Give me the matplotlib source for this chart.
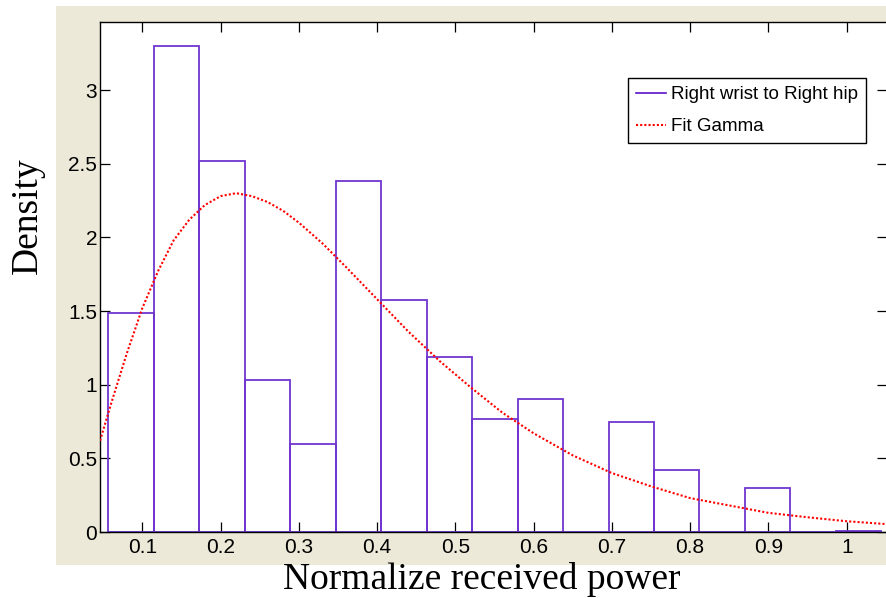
import matplotlib
matplotlib.use("Agg")
import matplotlib.pyplot as plt
from matplotlib.patches import Rectangle
from matplotlib.lines import Line2D

# ---- data ----
bin_left = 0.0566
bin_width = 0.0581
bar_heights = [1.49, 3.30, 2.52, 1.03, 0.60, 2.38, 1.575, 1.185, 0.77, 0.905,
               0.0, 0.75, 0.42, 0.0, 0.30, 0.0, 0.008]
fit_x = [0.046, 0.06, 0.08, 0.10, 0.12, 0.14, 0.16, 0.18, 0.20, 0.22, 0.24,
         0.26, 0.28, 0.30, 0.33, 0.36, 0.40, 0.44, 0.48, 0.52, 0.56, 0.60,
         0.65, 0.70, 0.75, 0.80, 0.85, 0.90, 0.95, 1.00, 1.05]
fit_y = [0.62, 0.87, 1.21, 1.52, 1.77, 1.98, 2.12, 2.22, 2.28, 2.30, 2.28,
         2.24, 2.18, 2.10, 1.96, 1.80, 1.58, 1.36, 1.16, 0.98, 0.81, 0.67,
         0.52, 0.40, 0.31, 0.23, 0.18, 0.13, 0.10, 0.073, 0.054]
xticks = [0.1, 0.2, 0.3, 0.4, 0.5, 0.6, 0.7, 0.8, 0.9, 1.0]
xtick_labels = ["0.1", "0.2", "0.3", "0.4", "0.5", "0.6", "0.7", "0.8", "0.9", "1"]
yticks = [0, 0.5, 1, 1.5, 2, 2.5, 3]
ytick_labels = ["0", "0.5", "1", "1.5", "2", "2.5", "3"]
series_label = "Right wrist to Right hip"
fit_label = "Fit Gamma"
xlabel = "Normalize received power"
ylabel = "Density"

W, H = 886, 598
sans = ["Liberation Sans", "DejaVu Sans"]
serif = ["Liberation Serif", "DejaVu Serif"]

fig = plt.figure(figsize=(W / 100, H / 100), dpi=100, facecolor="white")
# beige MATLAB figure background
fig.patches.append(Rectangle((56 / W, (H - 565) / H), (W - 56) / W, (565 - 6) / H,
                             transform=fig.transFigure, facecolor="#ece9d8",
                             edgecolor="none", zorder=-10))

ax_l, ax_r, ax_t, ax_b = 100, 887, 22.3, 532
ax = fig.add_axes([ax_l / W, (H - ax_b) / H, (ax_r - ax_l) / W, (ax_b - ax_t) / H])
ax.set_zorder(1)
ax.set_facecolor("white")

lefts = [bin_left + i * bin_width for i in range(len(bar_heights))]
ax.bar(lefts, bar_heights, width=bin_width, align="edge", fill=False,
       edgecolor="#7035d0", linewidth=1.3, label=series_label, zorder=2)
ax.plot(fit_x, fit_y, linestyle=(0, (1, 1)), color="#ff0000", linewidth=1.5,
        label=fit_label, zorder=3)

ax.set_xlim(0.0459, 1.0515)
ax.set_ylim(0, 3.46)
ax.set_xticks(xticks)
ax.set_xticklabels(xtick_labels)
ax.set_yticks(yticks)
ax.set_yticklabels(ytick_labels)
ax.tick_params(direction="in", length=7.5, width=0.9, top=True, right=True,
               labelsize=15, colors="black")
ax.tick_params(axis="x", pad=4.5)
ax.tick_params(axis="y", pad=2)
for lab in ax.get_xticklabels() + ax.get_yticklabels():
    lab.set_family(sans)
for sp in ax.spines.values():
    sp.set_linewidth(1.0)
    sp.set_color("black")

handles = [Line2D([], [], color="#5a10c8", linewidth=1.2),
           Line2D([], [], color="#ff0000", linestyle=(0, (1, 1)), linewidth=1.5)]
leg = ax.legend(handles, [series_label, fit_label], loc="upper right",
                bbox_to_anchor=(865.7 / W, (H - 78.3) / H),
                bbox_transform=fig.transFigure, borderaxespad=0,
                fancybox=False, framealpha=1, edgecolor="black",
                prop={"family": sans, "size": 13.5}, handlelength=1.6,
                handletextpad=0.25, borderpad=0.42, labelspacing=0.8)
leg.get_frame().set_linewidth(1.0)

fig.text(482 / W, 9 / H, xlabel, ha="center", va="baseline",
         family=serif, fontsize=27)
fig.text(28 / W, (H - 216) / H, ylabel, ha="center", va="center",
         rotation=90, family=serif, fontsize=27)

fig.savefig("out.png", dpi=100, facecolor="white")
